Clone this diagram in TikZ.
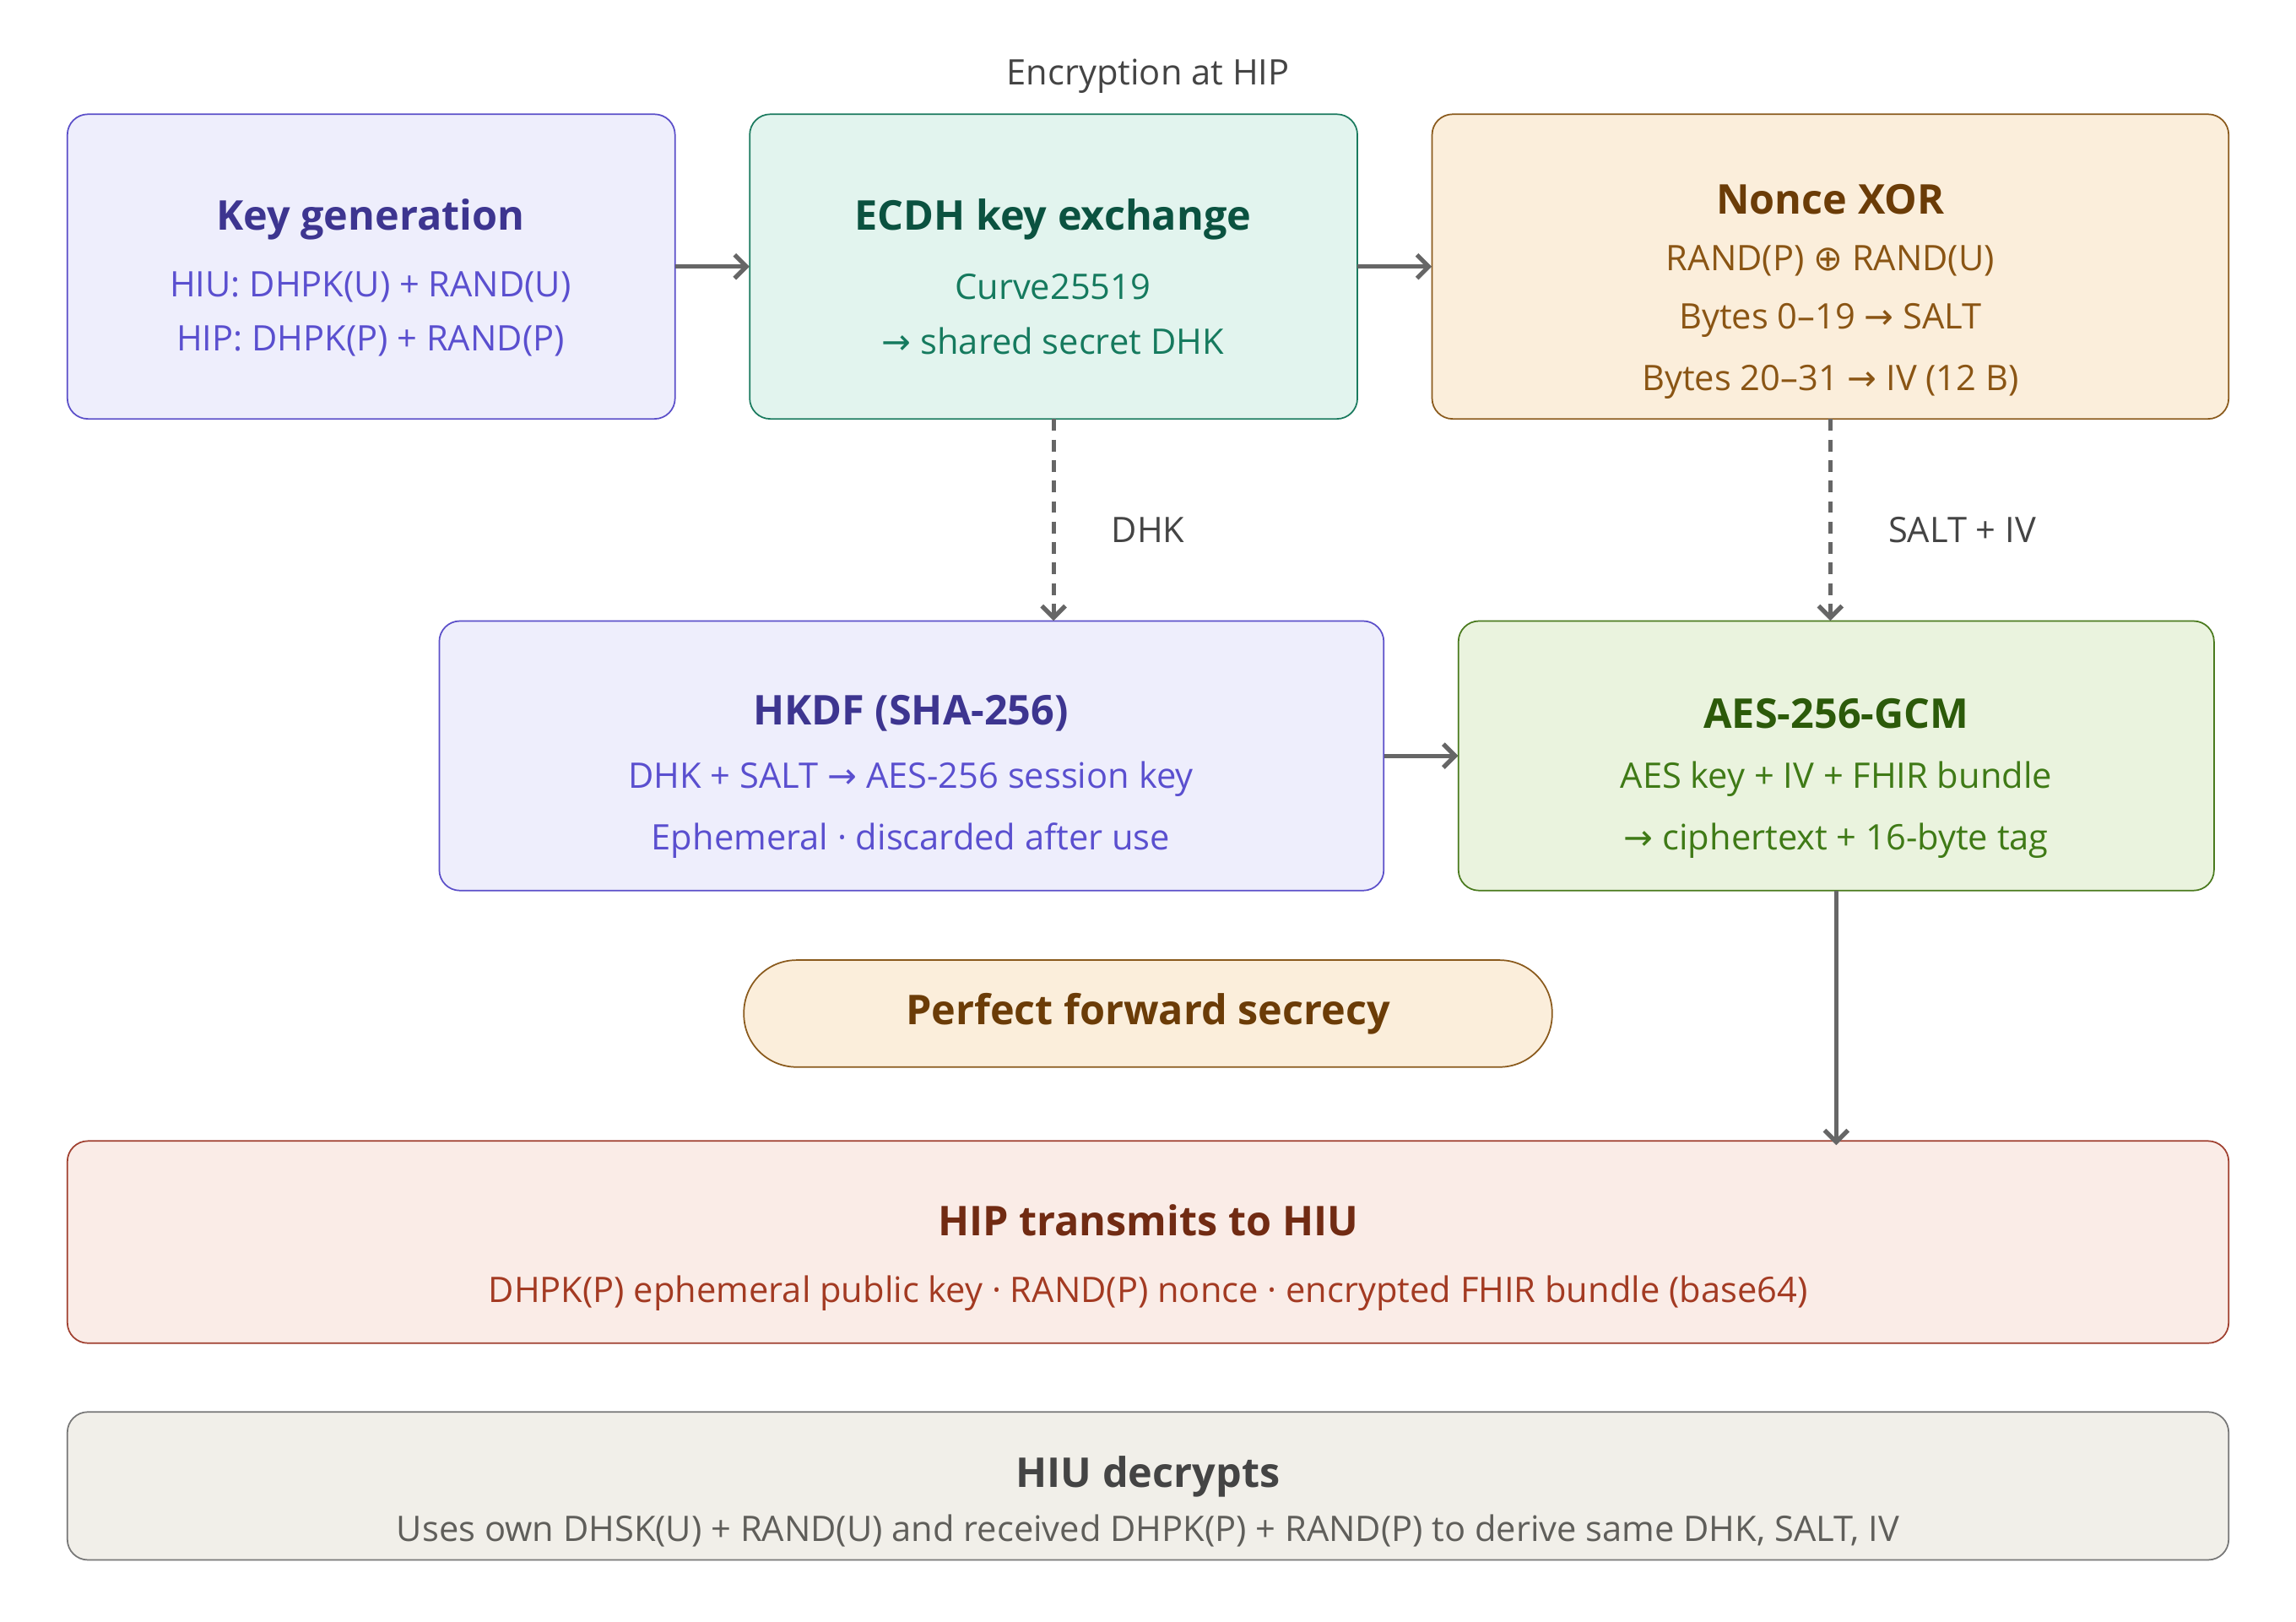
\documentclass[tikz,border=0pt]{standalone}
\usepackage{fontspec}
\setmainfont{Open Sans}
\newfontfamily\symf{DejaVu Sans}
\usetikzlibrary{arrows.meta}
\definecolor{pfill}{HTML}{EEEEFC}\definecolor{pdraw}{HTML}{5B4FC9}\definecolor{ptit}{HTML}{3D3590}\definecolor{ptxt}{HTML}{5A4FCF}
\definecolor{gfill}{HTML}{E2F4EE}\definecolor{gdraw}{HTML}{1A7A5E}\definecolor{gtit}{HTML}{0B5240}\definecolor{gtxt}{HTML}{157A5E}
\definecolor{ofill}{HTML}{FBEEDB}\definecolor{odraw}{HTML}{8A5A1C}\definecolor{otit}{HTML}{6B3C07}\definecolor{otxt}{HTML}{8A5514}
\definecolor{lfill}{HTML}{EAF3DE}\definecolor{ldraw}{HTML}{4A7A1E}\definecolor{ltit}{HTML}{2C5A0A}\definecolor{ltxt}{HTML}{3F7A16}
\definecolor{rfill}{HTML}{FAECE7}\definecolor{rdraw}{HTML}{A04030}\definecolor{rtit}{HTML}{712B13}\definecolor{rtxt}{HTML}{A33A22}
\definecolor{nfill}{HTML}{F1EFE9}\definecolor{ndraw}{HTML}{777777}\definecolor{ntit}{HTML}{444444}\definecolor{ntxt}{HTML}{5F5E5A}
\definecolor{arr}{HTML}{666666}
\begin{document}
\begin{tikzpicture}[x=1pt,y=-1pt,
 box/.style={draw=#1draw,fill=#1fill,line width=1pt,rounded corners=14pt},
 tit/.style={text=#1tit,font=\fontsize{28}{32}\selectfont\bfseries,anchor=center},
 txt/.style={text=#1txt,font=\fontsize{24}{28}\selectfont,anchor=center},
 lab/.style={text=ntit,font=\fontsize{24}{28}\selectfont},
 ar/.style={draw=arr,line width=3pt,-{Straight Barb[length=8pt,width=16pt]}},
 dar/.style={ar,dash pattern=on 8pt off 6pt}]
\useasboundingbox (0,0) rectangle (1568,1107);
\fill[white] (0,0) rectangle (1568,1107);
\node[lab] (top) at (784,52) {Encryption at HIP};
\node[inner sep=0,minimum width=415pt,minimum height=208pt] (kgb) at (253.5,182) {};
\node[inner sep=0,minimum width=415pt,minimum height=208pt] (ecb) at (719.5,182) {};
\node[inner sep=0,minimum width=544pt,minimum height=208pt] (nob) at (1250,182) {};
\node[inner sep=0,minimum width=645pt,minimum height=184pt] (hkb) at (622.5,516) {};
\node[inner sep=0,minimum width=516pt,minimum height=184pt] (aeb) at (1254,516) {};
\path[box=p] (46,78) rectangle (461,286);
\path[box=g] (512,78) rectangle (927,286);
\path[box=o] (978,78) rectangle (1522,286);
\path[box=p] (300,424) rectangle (945,608);
\path[box=l] (996,424) rectangle (1512,608);
\node[draw=odraw,fill=ofill,line width=1pt,rounded corners=36pt,minimum width=552pt,minimum height=73pt,tit=o] (pfs) at (784,692) {Perfect forward secrecy};
\path[box=r] (46,779) rectangle (1522,917);
\node[inner sep=0,minimum width=1476pt,minimum height=138pt] (hip) at (784,848) {};
\path[box=n] (46,964) rectangle (1522,1065);
\node[inner sep=0,minimum width=1476pt,minimum height=101pt] (hiu) at (784,1014) {};
\node[tit=p] (t1) at (253,150) {Key generation};
\node[txt=p] (t1a) at (253,196) {HIU: DHPK(U) + RAND(U)};
\node[txt=p] (t1b) at (253,233) {HIP: DHPK(P) + RAND(P)};
\node[tit=g] (t2) at (719,150) {ECDH key exchange};
\node[txt=g] (t2a) at (719,196) {Curve25519};
\node[txt=g] (t2b) at (719,233) {{\symf →} shared secret DHK};
\node[tit=o] (t3) at (1250,136) {Nonce XOR};
\node[txt=o] (t3a) at (1250,178) {RAND(P) {\symf ⊕} RAND(U)};
\node[txt=o] (t3b) at (1250,219) {Bytes 0–19 {\symf →} SALT};
\node[txt=o] (t3c) at (1250,261) {Bytes 20–31 {\symf →} IV (12 B)};
\node[tit=p] (t4) at (622,487) {HKDF (SHA-256)};
\node[txt=p] (t4a) at (622,532) {DHK + SALT {\symf →} AES-256 session key};
\node[txt=p] (t4b) at (622,574) {Ephemeral · discarded after use};
\node[tit=l] (t5) at (1254,487) {AES-256-GCM};
\node[txt=l] (t5a) at (1254,532) {AES key + IV + FHIR bundle};
\node[txt=l] (t5b) at (1254,574) {{\symf →} ciphertext + 16-byte tag};
\node[tit=r] (t6) at (784,833) {HIP transmits to HIU};
\node[txt=r] (t6a) at (784,883) {DHPK(P) ephemeral public key · RAND(P) nonce · encrypted FHIR bundle (base64)};
\node[tit=n] (t7) at (784,1008) {HIU decrypts};
\node[txt=n] (t7a) at (784,1045) {Uses own DHSK(U) + RAND(U) and received DHPK(P) + RAND(P) to derive same DHK, SALT, IV};
\draw[ar] (kgb.east) -- (ecb.west);
\draw[ar] (ecb.east) -- (nob.west);
\draw[dar] (ecb.south) -- (ecb.south |- hkb.north);
\node[lab] (l1) at (784,362) {DHK};
\draw[dar] (nob.south) -- (nob.south |- aeb.north);
\node[lab] (l2) at (1340,362) {SALT + IV};
\draw[ar] (hkb.east) -- (aeb.west);
\draw[ar] (aeb.south) -- ([yshift=-3pt]aeb.south |- hip.north);
\end{tikzpicture}
\end{document}
